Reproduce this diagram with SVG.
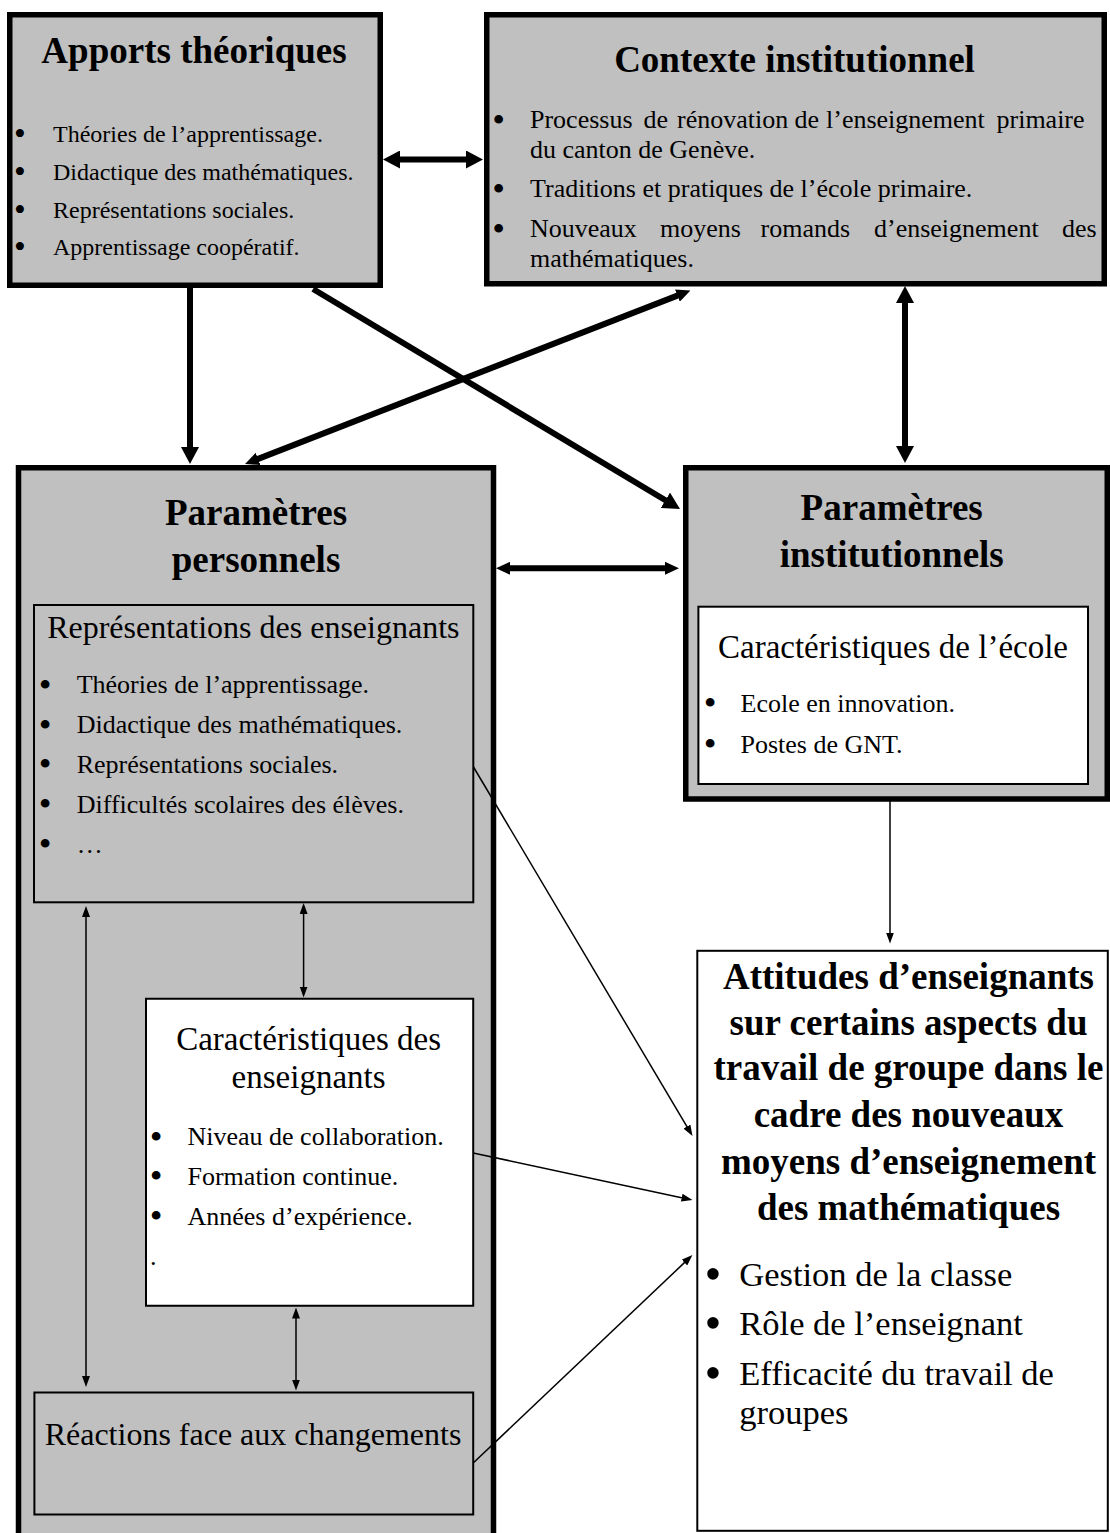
<svg xmlns="http://www.w3.org/2000/svg" width="1110" height="1533" viewBox="0 0 1110 1533">
<style>
text{font-family:"Liberation Serif","Times New Roman",serif;fill:#000}
.ttl{font-weight:bold;font-size:37px;text-anchor:middle}
.big{fill:#c0c0c0;stroke:#000;stroke-width:5.5}
.inG{fill:#c0c0c0;stroke:#000;stroke-width:2}
.inW{fill:#fff;stroke:#000;stroke-width:2}
.sub{font-size:33px;text-anchor:middle}
.b{text-anchor:middle;font-size:1.4em}
.thick{stroke:#000;stroke-width:6;fill:none}
.thin{stroke:#000;stroke-width:1.5;fill:none}
</style>
<defs>
<marker id="mA" markerUnits="userSpaceOnUse" markerWidth="17" markerHeight="18" refX="2" refY="9" orient="auto-start-reverse"><path d="M0,0 L17,9 L0,18 z" fill="#000"/></marker>
<marker id="mB" markerUnits="userSpaceOnUse" markerWidth="14" markerHeight="13" refX="2" refY="6.5" orient="auto-start-reverse"><path d="M0,0 L14,6.5 L0,13 z" fill="#000"/></marker>
<marker id="mC" markerUnits="userSpaceOnUse" markerWidth="11" markerHeight="8" refX="1" refY="4" orient="auto-start-reverse"><path d="M0,0 L11,4 L0,8 z" fill="#000"/></marker>
</defs>
<rect width="1110" height="1533" fill="#fff"/>

<g id="apports">
<rect class="big" x="9.75" y="14.75" width="370.5" height="270.5"/>
<text class="ttl" x="194" y="63">Apports théoriques</text>
<g font-size="24">
<text class="b" x="20" y="145">•</text><text x="53" y="142">Théories de l’apprentissage.</text>
<text class="b" x="20" y="183">•</text><text x="53" y="180">Didactique des mathématiques.</text>
<text class="b" x="20" y="220.5">•</text><text x="53" y="217.5">Représentations sociales.</text>
<text class="b" x="20" y="258">•</text><text x="53" y="255">Apprentissage coopératif.</text>
</g>
</g>

<g id="contexte">
<rect class="big" x="486.75" y="14.75" width="617.5" height="269"/>
<text class="ttl" x="794.5" y="72">Contexte institutionnel</text>
<g font-size="26">
<text class="b" x="498.6" y="131.5">•</text>
<text y="128.3"><tspan x="530">Processus</tspan><tspan x="643.5">de</tspan><tspan x="677">rénovation</tspan><tspan x="794.5">de</tspan><tspan x="826">l’enseignement</tspan><tspan x="996.5">primaire</tspan></text>
<text x="530" y="158.3">du canton de Genève.</text>
<text class="b" x="498.6" y="200.5">•</text><text x="530" y="197.3">Traditions et pratiques de l’école primaire.</text>
<text class="b" x="498.6" y="240.5">•</text>
<text y="237.3"><tspan x="530">Nouveaux</tspan><tspan x="660">moyens</tspan><tspan x="760.6">romands</tspan><tspan x="874">d’enseignement</tspan><tspan x="1062">des</tspan></text>
<text x="530" y="266.7">mathématiques.</text>
</g>
</g>

<g id="personnels">
<rect class="big" x="18.5" y="467.75" width="475" height="1100"/>
<text class="ttl" x="256" y="525">Paramètres</text>
<text class="ttl" x="256" y="571.5">personnels</text>
</g>

<g id="representations">
<rect class="inG" x="34" y="605" width="439.3" height="297.3"/>
<text text-anchor="middle" font-size="32" x="253.3" y="638.3">Représentations des enseignants</text>
<g font-size="26">
<text class="b" x="45" y="696.5">•</text><text x="76.7" y="693.3">Théories de l’apprentissage.</text>
<text class="b" x="45" y="736.5">•</text><text x="76.7" y="733.3">Didactique des mathématiques.</text>
<text class="b" x="45" y="776">•</text><text x="76.7" y="772.7">Représentations sociales.</text>
<text class="b" x="45" y="816">•</text><text x="76.7" y="812.7">Difficultés scolaires des élèves.</text>
<text class="b" x="45" y="856">•</text><text x="76.7" y="852.7">…</text>
</g>
</g>

<g id="caract-enseignants">
<rect class="inW" x="146" y="998.75" width="327.2" height="307"/>
<text class="sub" x="308.6" y="1050">Caractéristiques des</text>
<text class="sub" x="308.6" y="1088.3">enseignants</text>
<g font-size="26">
<text class="b" x="156" y="1148.6">•</text><text x="187.5" y="1145.4">Niveau de collaboration.</text>
<text class="b" x="156" y="1188.2">•</text><text x="187.5" y="1185">Formation continue.</text>
<text class="b" x="156" y="1228.2">•</text><text x="187.5" y="1225">Années d’expérience.</text>
<text x="150" y="1265">.</text>
</g>
</g>

<g id="reactions">
<rect class="inG" x="34.4" y="1392.5" width="438.8" height="122"/>
<text text-anchor="middle" font-size="32" x="253" y="1444.6">Réactions face aux changements</text>
</g>

<g id="institutionnels">
<rect class="big" x="685.75" y="467.75" width="421.5" height="331.25"/>
<text class="ttl" x="891.7" y="520">Paramètres</text>
<text class="ttl" x="891.7" y="566.7">institutionnels</text>
</g>

<g id="caract-ecole">
<rect class="inW" x="698.4" y="606.7" width="389.6" height="177.3"/>
<text class="sub" x="893" y="658.3">Caractéristiques de l’école</text>
<g font-size="26">
<text class="b" x="710" y="715">•</text><text x="740.5" y="711.7">Ecole en innovation.</text>
<text class="b" x="710" y="756">•</text><text x="740.5" y="752.7">Postes de GNT.</text>
</g>
</g>

<g id="attitudes">
<rect class="inW" x="697.3" y="950.8" width="410.5" height="580"/>
<g>
<text class="ttl" font-size="37.5" x="908.5" y="989">Attitudes d’enseignants</text>
<text class="ttl" font-size="37.5" x="908.5" y="1035">sur certains aspects du</text>
<text class="ttl" font-size="37.5" x="908.5" y="1080">travail de groupe dans le</text>
<text class="ttl" font-size="37.5" x="908.5" y="1126.7">cadre des nouveaux</text>
<text class="ttl" font-size="37.5" x="908.5" y="1173.7">moyens d’enseignement</text>
<text class="ttl" font-size="37.5" x="908.5" y="1219.6">des mathématiques</text>
</g>
<g font-size="34.5">
<text class="b" x="713" y="1290">•</text><text x="739.3" y="1286">Gestion de la classe</text>
<text class="b" x="713" y="1339.4">•</text><text x="739.3" y="1335.4">Rôle de l’enseignant</text>
<text class="b" x="713" y="1389">•</text><text x="739.3" y="1385">Efficacité du travail de</text>
<text x="739.3" y="1423.7">groupes</text>
</g>
</g>

<g id="connectors">
<line class="thick" x1="398" y1="159.5" x2="468" y2="159.5" marker-start="url(#mA)" marker-end="url(#mA)"/>
<line class="thick" x1="190" y1="288" x2="190" y2="449" marker-end="url(#mA)"/>
<line class="thick" x1="313" y1="289" x2="667.1" y2="501.3" marker-end="url(#mA)"/>
<line class="thick" x1="256.2" y1="459.6" x2="679.3" y2="294.9" marker-start="url(#mB)" marker-end="url(#mB)"/>
<line class="thick" x1="905" y1="301" x2="905" y2="448" marker-start="url(#mA)" marker-end="url(#mA)"/>
<line class="thick" stroke-width="5" x1="508" y1="568.3" x2="667" y2="568.3" marker-start="url(#mB)" marker-end="url(#mB)"/>
<line class="thin" x1="86" y1="916" x2="86" y2="1377" marker-start="url(#mC)" marker-end="url(#mC)"/>
<line class="thin" x1="303.6" y1="913" x2="303.6" y2="987.5" marker-start="url(#mC)" marker-end="url(#mC)"/>
<line class="thin" x1="296" y1="1317.5" x2="296" y2="1380.5" marker-start="url(#mC)" marker-end="url(#mC)"/>
<line class="thin" x1="890" y1="801" x2="890" y2="933.5" marker-end="url(#mC)"/>
<line class="thin" x1="473.5" y1="767" x2="687.4" y2="1127.4" marker-end="url(#mC)"/>
<line class="thin" x1="473.2" y1="1153" x2="682.7" y2="1197.9" marker-end="url(#mC)"/>
<line class="thin" x1="473.2" y1="1463" x2="685.2" y2="1261.9" marker-end="url(#mC)"/>
</g>
</svg>
